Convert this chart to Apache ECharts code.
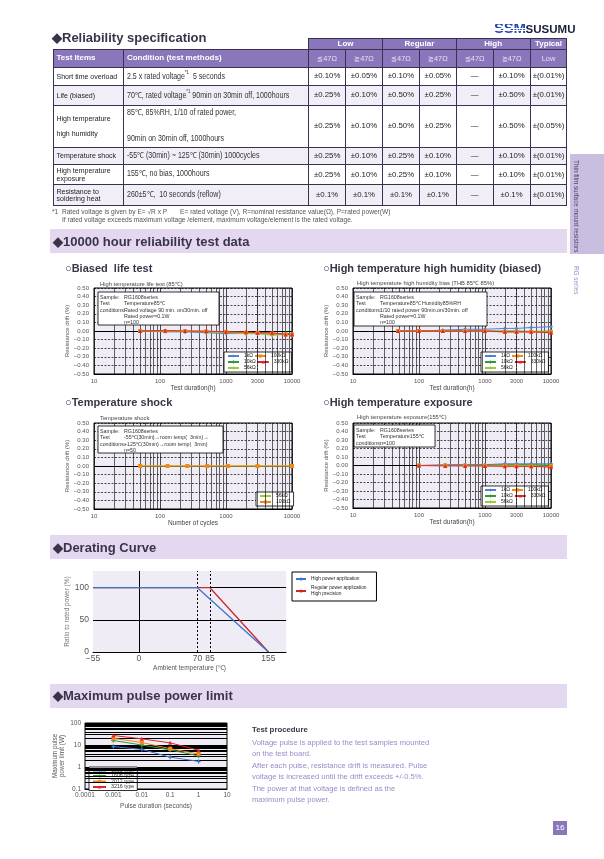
<!DOCTYPE html>
<html>
<head>
<meta charset="utf-8">
<title>RG series reliability</title>
<script src="https://cdn.jsdelivr.net/npm/echarts@6.0.0/dist/echarts.min.js"></script>
<style>
html,body{margin:0;padding:0;background:#fff;}
body{width:604px;height:859px;position:relative;overflow:hidden;font-family:"Liberation Sans",Arial,sans-serif;color:#222;}
#chart{position:absolute;left:0;top:0;width:604px;height:859px;z-index:1;}
.a{position:absolute;z-index:2;white-space:nowrap;line-height:1;}
.h{font-weight:bold;font-size:13px;color:#3b3347;}
.bar{position:absolute;left:50px;width:517px;height:24px;background:#e3d8ef;z-index:0;}
.sub{font-weight:bold;font-size:11px;color:#3b3347;}
table.spec{position:absolute;left:52.5px;top:38.3px;width:514px;border-collapse:collapse;table-layout:fixed;z-index:2;}
table.spec td{box-sizing:border-box;border:1px solid #3a3050;padding:0 3px;overflow:hidden;white-space:nowrap;line-height:1.05;}
table.spec tr.hd td{background:#8a76bb;color:#fff;font-weight:bold;font-size:8px;}
table.spec tr.hd td.blank{border:none;background:transparent;}
table.spec tr.hd td.c{text-align:center;}
table.spec tr.hd td.r{font-weight:normal;color:#e6def3;font-size:7.4px;text-align:center;padding:0;}
table.spec td.it{font-size:7px;color:#222;}
table.spec td.cn{font-size:8.2px;color:#333;}
table.spec td.cn span{display:inline-block;transform:scaleX(0.86);transform-origin:0 50%;}
table.spec td.v{text-align:center;font-size:7.8px;color:#222;padding:0;}
table.spec tr.t td{background:#f1eef7;}
sup{font-size:5px;vertical-align:5px;line-height:0;}
.foot{font-size:6.6px;color:#555;}
.proc{font-size:7.6px;color:#9c89c9;line-height:11.4px;}
.logo1{font-weight:bold;font-size:15px;letter-spacing:-0.3px;color:transparent;background:repeating-linear-gradient(180deg,#2446b2 0px,#2446b2 1.8px,#fff 1.8px,#fff 2.4px);-webkit-background-clip:text;background-clip:text;}
.logo2{font-weight:bold;font-size:11.5px;color:#1b1d3d;}
.tab{position:absolute;left:570px;top:154px;width:34px;height:100px;background:#c9bde0;z-index:0;}
.vt{writing-mode:vertical-rl;font-size:6.4px;}
</style>
</head>
<body>
<div id="chart"></div>

<!-- header -->
<div class="a h" style="left:52px;top:31px;">◆Reliability specification</div>
<div class="a" style="left:494px;top:20px;"><span class="logo1">SSM</span><span class="logo2">SUSUMU</span></div>

<table class="spec">
<colgroup>
<col style="width:70.4px"><col style="width:185.3px">
<col style="width:36.9px"><col style="width:36.9px"><col style="width:36.9px"><col style="width:36.9px"><col style="width:36.9px"><col style="width:36.9px"><col style="width:36.9px">
</colgroup>
<tr class="hd" style="height:11px"><td class="blank" colspan="2"></td><td class="c" colspan="2">Low</td><td class="c" colspan="2">Regular</td><td class="c" colspan="2">High</td><td class="c">Typical</td></tr>
<tr class="hd" style="height:17.4px"><td>Test Items</td><td>Condition (test methods)</td><td class="r">≦47Ω</td><td class="r">≧47Ω</td><td class="r">≦47Ω</td><td class="r">≧47Ω</td><td class="r">≦47Ω</td><td class="r">≧47Ω</td><td class="r">Low</td></tr>
<tr style="height:18.3px"><td class="it">Short time overload</td><td class="cn"><span>2.5 x rated voltage<sup>*1</sup>&nbsp; 5 seconds</span></td><td class="v">±0.10%</td><td class="v">±0.05%</td><td class="v">±0.10%</td><td class="v">±0.05%</td><td class="v">—</td><td class="v">±0.10%</td><td class="v">±(0.01%)</td></tr>
<tr class="t" style="height:20px"><td class="it">Life (biased)</td><td class="cn"><span>70℃, rated voltage<sup>*1</sup> 90min on 30min off, 1000hours</span></td><td class="v">±0.25%</td><td class="v">±0.10%</td><td class="v">±0.50%</td><td class="v">±0.25%</td><td class="v">—</td><td class="v">±0.50%</td><td class="v">±(0.01%)</td></tr>
<tr style="height:41.7px"><td class="it">High temperature<br><br>high humidity</td><td class="cn"><span>85℃, 85%RH, 1/10 of rated power,<br><br><br>90min on 30min off, 1000hours</span></td><td class="v">±0.25%</td><td class="v">±0.10%</td><td class="v">±0.50%</td><td class="v">±0.25%</td><td class="v">—</td><td class="v">±0.50%</td><td class="v">±(0.05%)</td></tr>
<tr class="t" style="height:17.6px"><td class="it">Temperature shock</td><td class="cn"><span>-55℃ (30min) ~ 125℃ (30min) 1000cycles</span></td><td class="v">±0.25%</td><td class="v">±0.10%</td><td class="v">±0.25%</td><td class="v">±0.10%</td><td class="v">—</td><td class="v">±0.10%</td><td class="v">±(0.01%)</td></tr>
<tr style="height:20px"><td class="it">High temperature<br>exposure</td><td class="cn"><span>155℃, no bias, 1000hours</span></td><td class="v">±0.25%</td><td class="v">±0.10%</td><td class="v">±0.25%</td><td class="v">±0.10%</td><td class="v">—</td><td class="v">±0.10%</td><td class="v">±(0.01%)</td></tr>
<tr class="t" style="height:20.7px"><td class="it">Resistance to<br>soldering heat</td><td class="cn"><span>260±5℃,&nbsp; 10 seconds (reflow)</span></td><td class="v">±0.1%</td><td class="v">±0.1%</td><td class="v">±0.1%</td><td class="v">±0.1%</td><td class="v">—</td><td class="v">±0.1%</td><td class="v">±(0.01%)</td></tr>
</table>

<div class="a foot" style="left:52px;top:209px;">*1&nbsp; Rated voltage is given by E= √R x P&nbsp;&nbsp;&nbsp;&nbsp;&nbsp;&nbsp; E= rated voltage (V), R=nominal resistance value(Ω), P=rated power(W)</div>
<div class="a foot" style="left:62px;top:217px;">If rated voltage exceeds maximum voltage /element, maximum voltage/element is the rated voltage.</div>

<div class="tab"></div>
<div class="a vt" style="left:573px;top:160px;color:#4e4070;">Thin film surface mount resistors</div>
<div class="a vt" style="left:573px;top:266px;color:#9c89c9;">RG series</div>

<!-- section bars -->
<div class="bar" style="top:229px;"></div>
<div class="a h" style="left:53px;top:235px;">◆10000 hour reliability test data</div>
<div class="a sub" style="left:65px;top:263px;">○Biased&nbsp; life test</div>
<div class="a sub" style="left:323px;top:263px;">○High temperature high humidity (biased)</div>
<div class="a sub" style="left:65px;top:397px;">○Temperature shock</div>
<div class="a sub" style="left:323px;top:397px;">○High temperature exposure</div>

<div class="bar" style="top:535px;"></div>
<div class="a h" style="left:53px;top:541px;">◆Derating Curve</div>

<div class="bar" style="top:684px;"></div>
<div class="a h" style="left:53px;top:689px;">◆Maximum pulse power limit</div>

<div class="a" style="left:252px;top:726px;font-weight:bold;font-size:7.8px;color:#3b3347;">Test procedure</div>
<div class="a proc" style="left:252px;top:737px;">Voltage pulse is applied to the test samples mounted<br>on the test board.<br>After each pulse, resistance drift is measured. Pulse<br>voltage is increased until the drift exceeds +/-0.5%.<br>The power at that voltage is defined as the<br>maximum pulse power.</div>

<div class="a" style="left:553px;top:821px;width:14px;height:14px;background:#8a76bb;color:#fff;font-size:8px;text-align:center;line-height:14px;">16</div>

<script>
// ---------------- data ----------------
// Biased life test (85°C)
const lifeHours = [50, 120, 240, 500, 1000, 2000, 3000, 5000, 8000, 10000];
const life1k    = [0, -0.01, -0.01, -0.02, -0.03, -0.03, -0.03, -0.04, -0.03, -0.04];
const life10k   = [0, 0, -0.005, -0.01, -0.015, -0.02, -0.02, -0.03, -0.03, -0.03];
const life56k   = [0, 0, -0.005, -0.01, -0.02, -0.03, -0.03, -0.05, -0.04, -0.05];
const life100k  = [0, 0, 0, -0.005, -0.01, -0.02, -0.02, -0.03, -0.04, -0.04];
const life330k  = [0, 0.005, 0, 0, -0.01, -0.01, -0.02, -0.02, -0.04, -0.04];

// High temperature high humidity bias
const thbHours = [48, 100, 230, 500, 1000, 2000, 3000, 5000, 10000];
const thb1k    = [0, 0, 0.01, 0.02, 0.02, 0.03, 0.03, 0.04, 0.05];
const thb10k   = [0, 0, 0, 0, 0, 0, 0, -0.005, 0];
const thb56k   = [0, 0, 0, 0, -0.005, -0.01, -0.01, -0.01, -0.01];
const thb100k  = [0, 0, 0, 0, 0, -0.01, -0.01, -0.01, -0.01];
const thb330k  = [0, 0, 0, 0, 0, -0.01, -0.01, -0.01, -0.02];

// Temperature shock
const shockCycles = [50, 130, 260, 520, 1070, 3000, 10000];
const shock56k    = [0, 0, 0, 0, 0, 0, 0];
const shock100k   = [0, 0, 0, 0, 0, 0, 0];

// High temperature exposure (155°C)
const hteHours = [100, 250, 500, 1000, 2000, 3000, 5000, 10000];
const hte1k    = [0, 0.01, 0.01, 0.01, 0.02, 0.02, 0.02, 0.02];
const hte10k   = [0, 0, 0.005, 0.005, 0.01, 0.01, 0.01, 0.005];
const hte56k   = [0, 0, 0, 0, 0, 0, 0, -0.01];
const hte100k  = [0, 0, 0, -0.005, -0.005, -0.005, -0.01, -0.01];
const hte330k  = [0, -0.005, -0.005, -0.005, -0.01, -0.01, -0.01, -0.02];

// Derating curve
const derHighPower = [[-55, 100], [70, 100], [155, 0]];
const derRegular   = [[-55, 100], [85, 100], [155, 0]];
const derTempTicks = [-55, 0, 70, 85, 155];
const derRatioTicks = [0, 50, 100];

// Maximum pulse power limit
const pulseDur  = [0.001, 0.01, 0.1, 1];
const pulse1005 = [8.5, 6.3, 2.8, 1.8];
const pulse1608 = [16, 10, 6, 3.2];
const pulse2012 = [20, 13, 6.8, 3.9];
const pulse3216 = [27, 19, 12.5, 5.8];

// Tick helpers (axis values, not data)
const durMinor = [20,30,40,50,60,70,80,90,200,300,400,500,600,700,800,900,2000,3000,4000,5000,6000,7000,8000,9000];
const pulseMinorY = [0.2,0.3,0.4,0.5,0.6,0.7,0.8,0.9,2,3,4,5,6,7,8,9,20,30,40,50,60,70,80,90];

// ---------------- styles ----------------
const col = {'1kΩ':'#4f82d4','10kΩ':'#2f9a3d','56kΩ':'#9acb3c','100kΩ':'#f0881a','330kΩ':'#e0262a',
  '1005 type':'#3f76cf','1608 type':'#2f9a3d','2012 type':'#f0881a','3216 type':'#e0262a'};
const plus = 'path://M-1,-3H1V-1H3V1H1V3H-1V1H-3V-1H-1Z';
const sym = {'1kΩ':'diamond','10kΩ':plus,'56kΩ':plus,'100kΩ':'rect','330kΩ':'triangle',
  '1005 type':plus,'1608 type':plus,'2012 type':'rect','3216 type':'triangle'};
const LAV = '#efecf6';
const FONT = '"Liberation Sans", Arial, sans-serif';

const grids = [
  {left:94, top:288, width:198, height:86},
  {left:353, top:288, width:198, height:86},
  {left:94, top:423, width:198, height:86},
  {left:353, top:423, width:198, height:85},
  {left:93, top:571, width:193, height:81},
  {left:85, top:723, width:142, height:66}
].map((g,i)=>Object.assign({show:true, backgroundColor:LAV, borderColor:'#000', borderWidth:i===4?0:1, containLabel:false, outerBoundsMode:'none'}, g));

function durAxis(gi, name){
  return {type:'log', logBase:10, gridIndex:gi, min:10, max:10000,
    name, nameLocation:'middle', nameGap:9.5, nameTextStyle:{fontSize:6.5, color:'#444', fontFamily:FONT},
    axisLine:{show:true, onZero:false, lineStyle:{color:'#000', width:1}}, axisTick:{show:false},
    axisLabel:{fontSize:6, color:'#555', margin:4, fontFamily:FONT, formatter:v=>String(Math.round(v))},
    splitLine:{show:true, lineStyle:{color:'#000', width:0.7}}};
}
function driftAxis(gi){
  return {type:'value', gridIndex:gi, min:-0.5, max:0.5, interval:0.1,
    name:'Resistance drift (%)', nameLocation:'middle', nameGap:22, nameTextStyle:{fontSize:6, color:'#555', fontFamily:FONT},
    axisLine:{show:false}, axisTick:{show:false},
    axisLabel:{fontSize:6, color:'#555', margin:5, fontFamily:FONT, formatter:v=>(v < -1e-9 ? '\u2212' : '') + Math.abs(v).toFixed(2)},
    splitLine:{show:true, lineStyle:{color:'#000', width:0.7, type:[2,1.5]}}};
}
function lineSeries(name, gi, xs, ys){
  return {name, type:'line', xAxisIndex:gi, yAxisIndex:gi, data:xs.map((x,i)=>[x, ys[i]]),
    symbol:sym[name], symbolSize:4, showSymbol:true, lineStyle:{width:1, color:col[name]}, itemStyle:{color:col[name]},
    z:5, animation:false};
}
function gridLines(gi, xs, ys, style){
  const data = xs.map(v=>({xAxis:v})).concat(ys.map(v=>({yAxis:v})));
  return {type:'line', xAxisIndex:gi, yAxisIndex:gi, data:[], silent:true, animation:false, z:2,
    markLine:{silent:true, symbol:['none','none'], animation:false, label:{show:false}, lineStyle:style, data}};
}
function tickLabel(gi, v, text){
  return {type:'line', xAxisIndex:gi, yAxisIndex:gi, data:[], silent:true, animation:false, z:2,
    markLine:{silent:true, symbol:['none','none'], animation:false, lineStyle:{width:0.6, color:'#000'},
      label:{show:true, position:'start', distance:4, formatter:text, fontSize:6, color:'#555', fontFamily:FONT},
      data:[{xAxis:v}]}};
}

const legendBase = {itemWidth:11, itemHeight:4, itemGap:1, padding:[1.5,3], backgroundColor:'#fff', borderColor:'#000', borderWidth:0.8,
  borderRadius:0, selectedMode:false, textStyle:{fontSize:5, color:'#222', fontFamily:FONT}};
const resLegend = ['1kΩ','100kΩ','10kΩ','330kΩ','56kΩ'];

function box(x, y, w, h, left, colon, right){
  return {type:'group', children:[
    {type:'rect', shape:{x, y, width:w, height:h}, style:{fill:'#fff', stroke:'#000', lineWidth:0.8}, z:10},
    {type:'text', x:x+2, y:y+2.5, z:11, style:{text:left, font:'5.3px '+FONT, fill:'#333', lineHeight:6.3, verticalAlign:'top'}},
    {type:'text', x:x+20, y:y+2.5, z:11, style:{text:colon, font:'5.3px '+FONT, fill:'#333', lineHeight:6.3, verticalAlign:'top'}},
    {type:'text', x:x+26, y:y+2.5, z:11, style:{text:right, font:'5.3px '+FONT, fill:'#333', lineHeight:6.3, verticalAlign:'top'}}
  ]};
}
function ctitle(x, y, t){
  return {type:'text', x, y, z:11, style:{text:t, font:'5.8px '+FONT, fill:'#444', verticalAlign:'middle'}};
}

const minorStyle = {color:'#000', width:0.6, type:'solid'};
const zeroStyle = {color:'#000', width:1.1, type:'solid'};

const option = {
  animation:false,
  backgroundColor:'transparent',
  grid: grids,
  xAxis: [
    durAxis(0, 'Test duration(h)'),
    durAxis(1, 'Test duration(h)'),
    durAxis(2, 'Number of cycles'),
    durAxis(3, 'Test duration(h)'),
    {type:'value', gridIndex:4, min:-55, max:176,
      name:'Ambient temperature (℃)', nameLocation:'middle', nameGap:13, nameTextStyle:{fontSize:6.5, color:'#555', fontFamily:FONT},
      axisLine:{show:true, lineStyle:{color:'#000', width:1}}, axisTick:{show:false},
      axisLabel:{customValues:derTempTicks, fontSize:8.5, color:'#555', margin:2, fontFamily:FONT, formatter:v=>(v<0?'\u2212':'')+Math.abs(v)},
      splitLine:{show:false}},
    {type:'log', logBase:10, gridIndex:5, min:0.0001, max:10,
      name:'Pulse duration (seconds)', nameLocation:'middle', nameGap:14, nameTextStyle:{fontSize:6.5, color:'#555', fontFamily:FONT},
      axisLine:{show:true, lineStyle:{color:'#000', width:1}}, axisTick:{show:false},
      axisLabel:{fontSize:6.5, color:'#555', margin:3, fontFamily:FONT, formatter:v=>String(parseFloat(v.toPrecision(6)))},
      splitLine:{show:false}}
  ],
  yAxis: [
    driftAxis(0), driftAxis(1), driftAxis(2), driftAxis(3),
    {type:'value', gridIndex:4, min:0, max:126,
      name:'Ratio to rated power (%)', nameLocation:'middle', nameGap:20, nameTextStyle:{fontSize:6.5, color:'#777', fontFamily:FONT},
      axisLine:{show:false}, axisTick:{show:false},
      axisLabel:{customValues:derRatioTicks, fontSize:8.5, color:'#555', margin:4, fontFamily:FONT},
      splitLine:{show:false}},
    {type:'log', logBase:10, gridIndex:5, min:0.1, max:100,
      name:'Maximum pulse\npower limit (W)', nameLocation:'middle', nameGap:12, nameTextStyle:{fontSize:6.3, color:'#555', lineHeight:7, fontFamily:FONT},
      axisLine:{show:false}, axisTick:{show:false},
      axisLabel:{fontSize:6.5, color:'#555', margin:4, fontFamily:FONT, formatter:v=>String(parseFloat(v.toPrecision(6)))},
      splitLine:{show:true, lineStyle:{color:'#000', width:1.2}}}
  ],
  legend: [
    Object.assign({}, legendBase, {data:resLegend, left:224, top:352, width:62}),
    Object.assign({}, legendBase, {data:resLegend, left:481, top:352, width:62}),
    Object.assign({}, legendBase, {data:['56kΩ','100kΩ'], orient:'vertical', left:256, top:492}),
    Object.assign({}, legendBase, {data:resLegend, left:481, top:486, width:62}),
    Object.assign({}, legendBase, {data:['High power application','Regular power application'], orient:'vertical', left:292, top:572,
      itemWidth:10, itemGap:3, padding:[4,10,4,3], borderWidth:1, textStyle:{fontSize:4.8, color:'#222', lineHeight:6, fontFamily:FONT},
      formatter:n=>n==='Regular power application' ? n+'\nHigh precision' : n}),
    Object.assign({}, legendBase, {data:['1005 type','1608 type','2012 type','3216 type'], orient:'vertical', left:89, top:767,
      itemWidth:13, itemGap:0.5, padding:[1,3], textStyle:{fontSize:5.3, color:'#333', fontFamily:FONT}})
  ],
  graphic: [
    ctitle(100, 284, 'High temperature life test (85℃)'),
    ctitle(357, 283, 'High temperature high humidity bias (THB 85℃ 85%)'),
    ctitle(100, 418, 'Temperature shock'),
    ctitle(357, 417, 'High temperature exposure(155℃)'),
    box(98, 292, 121, 33, 'Sample\nTest\nconditions:', ':', 'RG1608series\nTemperature85℃\nRated voltage 90 min. on/30min. off\nRated power=0.1W\nn=100'),
    box(354, 292, 133, 34, 'Sample\nTest\nconditions:', ':', 'RG1608series\nTemperature85℃ Humidity85%RH\n1/10 rated power 90min.on/30min. off\nRated power=0.1W\nn=100'),
    box(98, 426, 125, 27, 'Sample\nTest\nconditions:', ':', 'RG1608series\n-55℃(30min)→room temp(  3min)→\n+125℃(30min)→room temp(  3min)\nn=50'),
    box(354, 425, 81, 22, 'Sample\nTest\nconditions:', ':', 'RG1608series\nTemperature155℃\nn=100')
  ],
  series: [
    // grid lines
    gridLines(0, durMinor, [], minorStyle), gridLines(0, [], [0], zeroStyle), tickLabel(0, 3000, '3000'),
    gridLines(1, durMinor, [], minorStyle), gridLines(1, [], [0], zeroStyle), tickLabel(1, 3000, '3000'),
    gridLines(2, durMinor, [], minorStyle), gridLines(2, [], [0], zeroStyle),
    gridLines(3, durMinor, [], minorStyle), gridLines(3, [], [0], zeroStyle), tickLabel(3, 3000, '3000'),
    gridLines(4, [0], [50, 100], {color:'#000', width:1, type:'solid'}),
    gridLines(4, [70, 85], [], {color:'#000', width:1, type:[2,2]}),
    gridLines(5, [], pulseMinorY, {color:'#000', width:1.2, type:'solid'}),
    // biased life
    lineSeries('1kΩ', 0, lifeHours, life1k), lineSeries('10kΩ', 0, lifeHours, life10k), lineSeries('56kΩ', 0, lifeHours, life56k),
    lineSeries('100kΩ', 0, lifeHours, life100k), lineSeries('330kΩ', 0, lifeHours, life330k),
    // THB
    lineSeries('1kΩ', 1, thbHours, thb1k), lineSeries('10kΩ', 1, thbHours, thb10k), lineSeries('56kΩ', 1, thbHours, thb56k),
    lineSeries('100kΩ', 1, thbHours, thb100k), lineSeries('330kΩ', 1, thbHours, thb330k),
    // shock
    lineSeries('56kΩ', 2, shockCycles, shock56k), lineSeries('100kΩ', 2, shockCycles, shock100k),
    // HTE
    lineSeries('1kΩ', 3, hteHours, hte1k), lineSeries('10kΩ', 3, hteHours, hte10k), lineSeries('56kΩ', 3, hteHours, hte56k),
    lineSeries('100kΩ', 3, hteHours, hte100k), lineSeries('330kΩ', 3, hteHours, hte330k),
    // derating
    {name:'Regular power application', type:'line', xAxisIndex:4, yAxisIndex:4, data:derRegular, symbol:'none', z:5,
      lineStyle:{color:'#c8282e', width:1.3}, itemStyle:{color:'#c8282e'}},
    {name:'High power application', type:'line', xAxisIndex:4, yAxisIndex:4, data:derHighPower, symbol:'none', z:6,
      lineStyle:{color:'#3f72c8', width:1.3}, itemStyle:{color:'#3f72c8'}},
    // pulse
    lineSeries('1005 type', 5, pulseDur, pulse1005), lineSeries('1608 type', 5, pulseDur, pulse1608),
    lineSeries('2012 type', 5, pulseDur, pulse2012), lineSeries('3216 type', 5, pulseDur, pulse3216)
  ]
};
const chart = echarts.init(document.getElementById('chart'), null, {renderer:'canvas'});
chart.setOption(option);
</script>
</body>
</html>
